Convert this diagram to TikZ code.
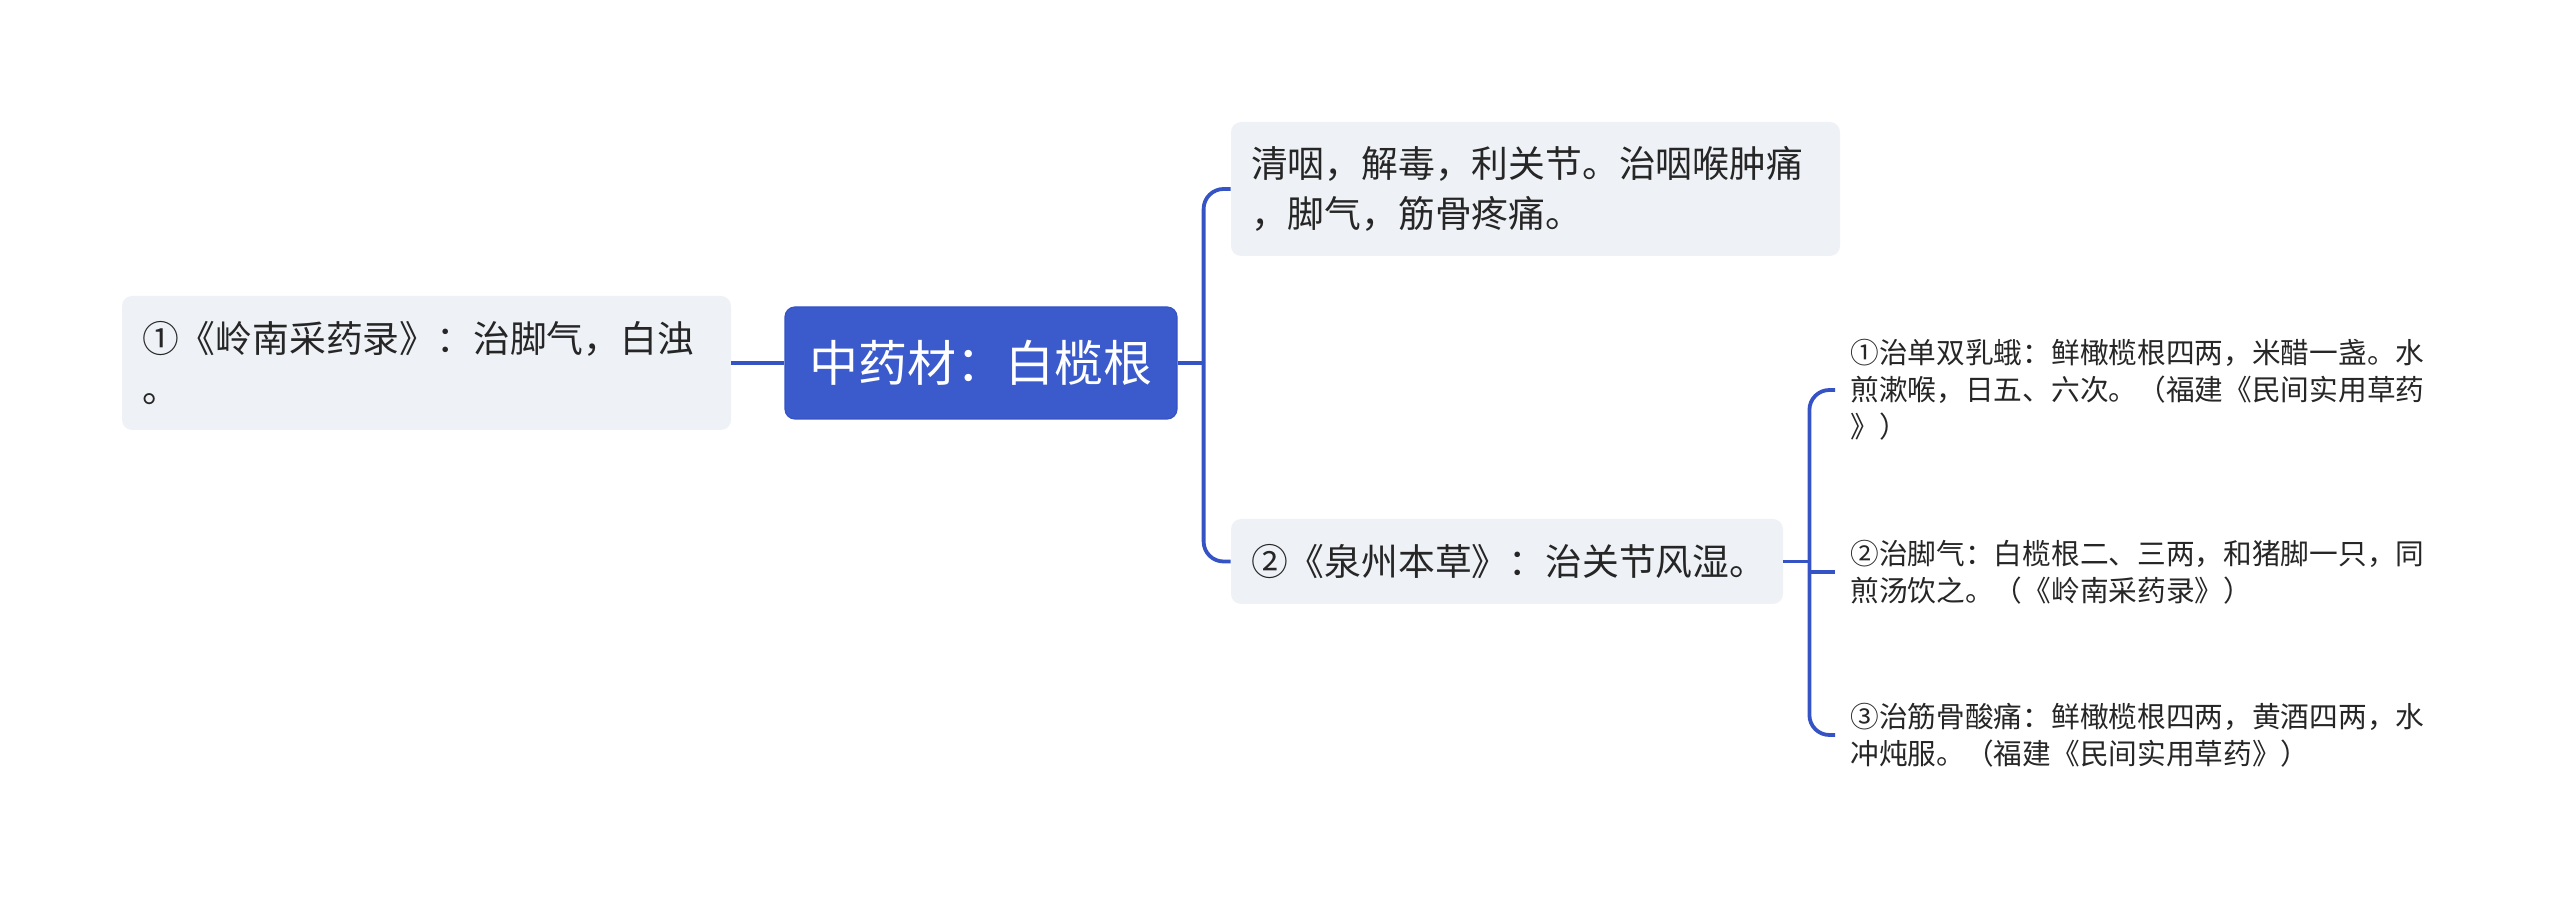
\documentclass[tikz,border=0pt]{standalone}
\usepackage{fontspec}
\setmainfont{Noto Sans CJK SC}
\definecolor{mainblue}{HTML}{3B5BCC}
\definecolor{lineblue}{HTML}{3553C4}
\definecolor{boxgray}{HTML}{EEF1F5}
\definecolor{txt}{HTML}{262626}
\tikzset{
  conn/.style={draw=lineblue, line width=1.9pt},
  bracket/.style={conn, rounded corners=10pt},
  graybox/.style={fill=boxgray, rounded corners=5pt, align=left, inner xsep=10pt, inner ysep=0pt,
    text=txt, font=\fontsize{18.4pt}{25pt}\selectfont},
  rootbox/.style={fill=mainblue, draw=lineblue, line width=0.6pt, rounded corners=5pt, text=white,
    minimum width=196pt, minimum height=56pt, inner sep=0pt,
    font=\fontsize{24.5pt}{30pt}\selectfont},
  leaf/.style={anchor=west, align=left, inner xsep=7.5pt, inner ysep=0pt, text width=300pt,
    text=txt, font=\fontsize{14.35pt}{18.5pt}\selectfont},
}
\begin{document}
\begin{tikzpicture}[x=0.5pt,y=-0.5pt]
\useasboundingbox (0,0) rectangle (2560,908);
% nodes
\node[rootbox] (c) at (981,363) {中药材：白榄根};
\node[graybox, text width=284.5pt, minimum height=67pt] (l) at (426.5,363)
  {①《岭南采药录》：治脚气，白浊\\。};
\node[graybox, text width=284.5pt, minimum height=67pt] (tr) at (1535.5,189)
  {清咽，解毒，利关节。治咽喉肿痛\\，脚气，筋骨疼痛。};
\node[graybox, text width=256pt, minimum height=42.5pt] (mr) at (1507,561.5)
  {②《泉州本草》：治关节风湿。};
\node[leaf] (i1) at (1835,390)
  {①治单双乳蛾：鲜橄榄根四两，米醋一盏。水\\煎漱喉，日五、六次。（福建《民间实用草药\\》）};
\node[leaf] (i2) at (1835,572)
  {②治脚气：白榄根二、三两，和猪脚一只，同\\煎汤饮之。（《岭南采药录》）};
\node[leaf] (i3) at (1835,735)
  {③治筋骨酸痛：鲜橄榄根四两，黄酒四两，水\\冲炖服。（福建《民间实用草药》）};
% connectors
\draw[conn] (l.east) -- (c.west);
\draw[conn] (c.east) -- ++(26,0) coordinate (cb);
\draw[bracket] (tr.west) -| (cb) |- (mr.west);
\draw[conn] (mr.east) -- ++(26,0) coordinate (cb2);
\draw[bracket] (i1.west) -| (cb2) |- (i3.west);
\draw[conn] (cb2 |- i2.west) -- (i2.west);
\end{tikzpicture}
\end{document}
